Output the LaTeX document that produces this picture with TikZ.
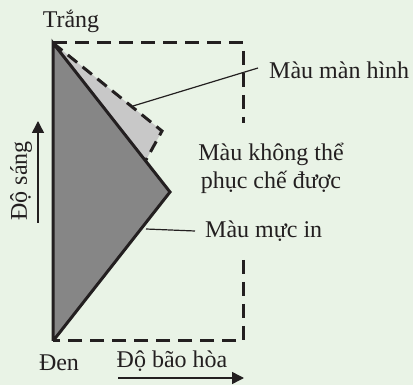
\documentclass[tikz,border=0pt]{standalone}
\usepackage{fontspec}
\setmainfont{Liberation Serif}
\usetikzlibrary{arrows.meta}
\definecolor{bg}{RGB}{233,243,230}
\definecolor{ink}{RGB}{35,31,32}
\definecolor{darkfill}{RGB}{134,134,134}
\definecolor{lightfill}{RGB}{200,200,200}
\tikzset{
  lbl/.style={font=\fontsize{24}{28}\selectfont, text=ink, inner sep=0pt},
  thick line/.style={draw=ink, line width=3pt, line join=miter},
  dash line/.style={draw=ink, line width=3pt, dash pattern=on 14pt off 8pt},
  leader/.style={draw=ink, line width=1.2pt},
  axis arrow/.style={draw=ink, line width=1.5pt, -{Triangle[length=12pt,width=12pt]}},
}
\begin{document}
\begin{tikzpicture}[x=1pt,y=-1pt]
\fill[bg] (0,0) rectangle (413,385);
\useasboundingbox (0,0) rectangle (413,385);
% key points
\coordinate (W) at (53,43);
\coordinate (B) at (53,341);
\coordinate (A) at (170,192);
\coordinate (S) at (162,131);
\coordinate (E) at (146,160);
\coordinate (TR) at (243,43);
\coordinate (BR) at (243,341);
\coordinate (R1) at (243,123);
\coordinate (R2) at (243,260);
% fills
\fill[lightfill] (W) -- (S) -- (E) -- cycle;
\fill[darkfill] (W) -- (A) -- (B) -- cycle;
% dashed rectangle
\draw[dash line] (W) -- (TR) -- (R1);
\draw[dash line] (R2) -- (BR) -- (B);
% screen gamut dashed outline
\draw[dash line, dash pattern=on 12pt off 7pt] (W) -- (S) -- (E);
% ink triangle
\draw[thick line] (B) -- (W) -- (A) -- (B);
% labels
\node[lbl] (trang) at (71,21) {Trắng};
\node[lbl] (den) at (59,363) {Đen};
\node[lbl] (bh) at (172,361) {Độ bão hòa};
\node[lbl, rotate=90] (ds) at (21,181) {Độ sáng};
\node[lbl, anchor=west] (mh) at (269,70) {Màu màn hình};
\node[lbl, align=center] (kt) at (271,168) {Màu không thể\\phục chế được};
\node[lbl, anchor=west] (mi) at (205,231) {Màu mực in};
% leaders
\coordinate (L1) at (133,106);
\coordinate (L2) at (146,229);
\draw[leader] (L1) -- ([xshift=-11pt,yshift=2pt]mh.west);
\draw[leader] (L2) -- ([xshift=-10pt]mi.west);
% axis arrows
\coordinate (xa0) at (118,378);
\coordinate (xa1) at (244,378);
\coordinate (ya0) at (38,223);
\coordinate (ya1) at (38,121);
\draw[axis arrow] (xa0) -- (xa1);
\draw[axis arrow] (ya0) -- (ya1);
\end{tikzpicture}
\end{document}
